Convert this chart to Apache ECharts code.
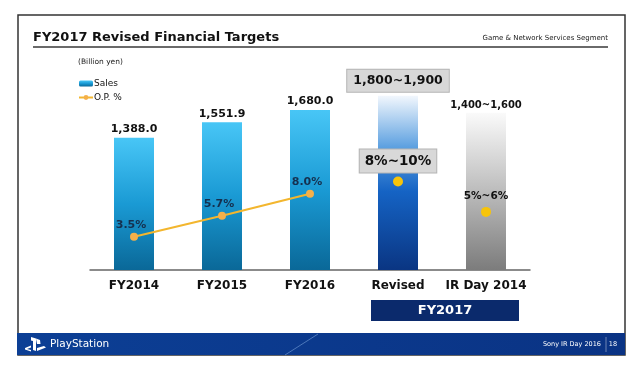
<!DOCTYPE html>
<html><head><meta charset="utf-8">
<script src="https://cdn.jsdelivr.net/npm/echarts@6/dist/echarts.min.js"></script>
<style>html,body{margin:0;padding:0;background:#fff}#c{width:640px;height:369px}</style>
</head><body><div id="c"></div>
<script>
var categories = ['FY2014', 'FY2015', 'FY2016', 'Revised', 'IR Day 2014'];
var salesValues = [1388.0, 1551.9, 1680.0, 1830, 1650];
var salesLabels = ['1,388.0', '1,551.9', '1,680.0', '1,800~1,900', '1,400~1,600'];
var opValues = [3.5, 5.7, 8.0, null, null];
var opLabels = ['3.5%', '5.7%', '8.0%', '', ''];
var opTargetValues = [null, null, null, 9.3, 6.1];
var opTargetLabels = ['', '', '', '8%~10%', '5%~6%'];

var F = 'DejaVu Sans, Verdana, sans-serif';
function grad(stops) {
  return new echarts.graphic.LinearGradient(0, 0, 0, 1, stops.map(function (s) { return { offset: s[0], color: s[1] }; }));
}
var cyan = grad([[0, '#48c6f6'], [0.5, '#1a9ad4'], [1, '#0a6898']]);
var navy = grad([[0, '#f2f7fd'], [0.3, '#5a9fe0'], [0.55, '#1563c4'], [1, '#0a3582']]);
var gray = grad([[0, '#fafafa'], [0.35, '#cfcfcf'], [1, '#7c7c7c']]);

var barData = salesValues.map(function (v, i) {
  var item = { value: v };
  if (i === 3) {
    item.itemStyle = { color: navy };
    item.label = { formatter: salesLabels[i], fontSize: 12.5, backgroundColor: '#d8d8d8', borderColor: '#b4b4b4', borderWidth: 1, padding: [5, 6, 4, 6], distance: 4 };
  } else if (i === 4) {
    item.itemStyle = { color: gray };
    item.label = { formatter: salesLabels[i], fontSize: 10, distance: 2 };
  } else {
    item.label = { formatter: salesLabels[i] };
  }
  return item;
});
var targetData = opTargetValues.map(function (v, i) {
  var item = { value: v };
  if (i === 3) {
    item.label = { show: true, formatter: opTargetLabels[i], fontSize: 13.5, backgroundColor: '#d8d8d8', borderColor: '#b4b4b4', borderWidth: 1, padding: [5, 5, 4, 5], distance: 4 };
  } else if (i === 4) {
    item.label = { show: true, formatter: opTargetLabels[i], fontSize: 10.5, distance: 5 };
  }
  return item;
});

var chart = echarts.init(document.getElementById('c'));
chart.setOption({
  animation: false,
  backgroundColor: '#fff',
  grid: { left: 90, right: 110, top: 70, bottom: 99 },
  legend: {
    data: ['Sales', 'O.P. %'], orient: 'vertical', left: 73, top: 74, itemGap: 5,
    itemWidth: 14, itemHeight: 6, textStyle: { fontFamily: F, fontSize: 9, color: '#111', padding: [0, 0, 0, -4] }
  },
  xAxis: {
    type: 'category', data: categories,
    axisLine: { lineStyle: { color: '#666', width: 1.5 } },
    axisTick: { show: false },
    axisLabel: { interval: 0, fontFamily: F, fontSize: 12, fontWeight: 'bold', color: '#111', margin: 10 }
  },
  yAxis: [
    { type: 'value', min: 0, max: 2100, show: false },
    { type: 'value', min: 0, max: 21, show: false }
  ],
  series: [
    {
      name: 'Sales', type: 'bar', barWidth: 40, data: barData,
      itemStyle: { color: cyan },
      label: { show: true, position: 'top', distance: 3, fontFamily: F, fontSize: 11, fontWeight: 'bold', color: '#111' }
    },
    {
      name: 'O.P. %', type: 'line', yAxisIndex: 1, data: opValues,
      symbol: 'circle', symbolSize: 8,
      lineStyle: { color: '#f3b62e', width: 2 },
      itemStyle: { color: '#f5b04a' },
      label: {
        show: true, position: 'top', distance: 2, offset: [-3, 0], fontFamily: F, fontSize: 11, fontWeight: 'bold', color: '#15304f',
        formatter: function (p) { return opLabels[p.dataIndex]; }
      }
    },
    {
      name: 'target', type: 'scatter', yAxisIndex: 1, data: targetData,
      symbol: 'circle', symbolSize: 10, itemStyle: { color: '#f7c40a', opacity: 1 },
      label: { show: false, position: 'top', fontFamily: F, fontWeight: 'bold', color: '#111', opacity: 1 }
    }
  ],
  graphic: [
    { type: 'rect', shape: { x: 18, y: 15, width: 607, height: 340 }, style: { fill: 'none', stroke: '#333', lineWidth: 1.5 }, silent: true },
    { type: 'text', x: 33, y: 38, style: { text: 'FY2017 Revised Financial Targets', font: 'bold 13px DejaVu Sans', fill: '#111', textVerticalAlign: 'middle' } },
    { type: 'text', x: 608, y: 38, style: { text: 'Game & Network Services Segment', font: '7px DejaVu Sans', fill: '#222', textAlign: 'right', textVerticalAlign: 'middle' } },
    { type: 'line', shape: { x1: 33, y1: 47, x2: 608, y2: 47 }, style: { stroke: '#6a6a6a', lineWidth: 2 } },
    { type: 'text', x: 78, y: 62, style: { text: '(Billion yen)', font: '7.5px DejaVu Sans', fill: '#222', textVerticalAlign: 'middle' } },
    { type: 'rect', shape: { x: 371, y: 300, width: 148, height: 21 }, style: { fill: '#0b2a6c' } },
    { type: 'text', x: 445, y: 311, style: { text: 'FY2017', font: 'bold 13px DejaVu Sans', fill: '#fff', textAlign: 'center', textVerticalAlign: 'middle' } },
    { type: 'rect', shape: { x: 17, y: 333, width: 608, height: 22 }, style: { fill: new echarts.graphic.LinearGradient(0, 0, 1, 0, [{ offset: 0, color: '#0c3f95' }, { offset: 1, color: '#0a3384' }]) } },
    { type: 'line', shape: { x1: 285, y1: 355, x2: 318, y2: 334 }, style: { stroke: 'rgba(140,180,230,0.5)', lineWidth: 1 } },
    { type: 'polygon', shape: { points: [[31, 337], [36, 338.5], [36, 351], [33, 350], [33, 341], [31, 340.5]] }, style: { fill: '#fff' } },
    { type: 'polygon', shape: { points: [[36, 338.5], [40, 340], [40.5, 344], [37, 344]] }, style: { fill: '#fff' } },
    { type: 'polygon', shape: { points: [[25, 348], [31, 345.5], [31, 347.5], [27, 349], [31, 350], [31, 351.5], [25, 349.5]] }, style: { fill: '#fff' } },
    { type: 'polygon', shape: { points: [[37, 348], [44, 346], [46, 347.5], [37, 351]] }, style: { fill: '#fff' } },
    { type: 'text', x: 50, y: 344.5, style: { text: 'PlayStation', font: '10.5px DejaVu Sans', fill: '#fff', textVerticalAlign: 'middle' } },
    { type: 'text', x: 601, y: 344.5, style: { text: 'Sony IR Day 2016', font: '6.5px DejaVu Sans', fill: '#fff', textAlign: 'right', textVerticalAlign: 'middle' } },
    { type: 'line', shape: { x1: 606, y1: 337, x2: 606, y2: 352 }, style: { stroke: 'rgba(255,255,255,0.4)', lineWidth: 1 } },
    { type: 'text', x: 613, y: 344.5, style: { text: '18', font: '6.5px DejaVu Sans', fill: '#fff', textAlign: 'center', textVerticalAlign: 'middle' } }
  ]
});
</script></body></html>
